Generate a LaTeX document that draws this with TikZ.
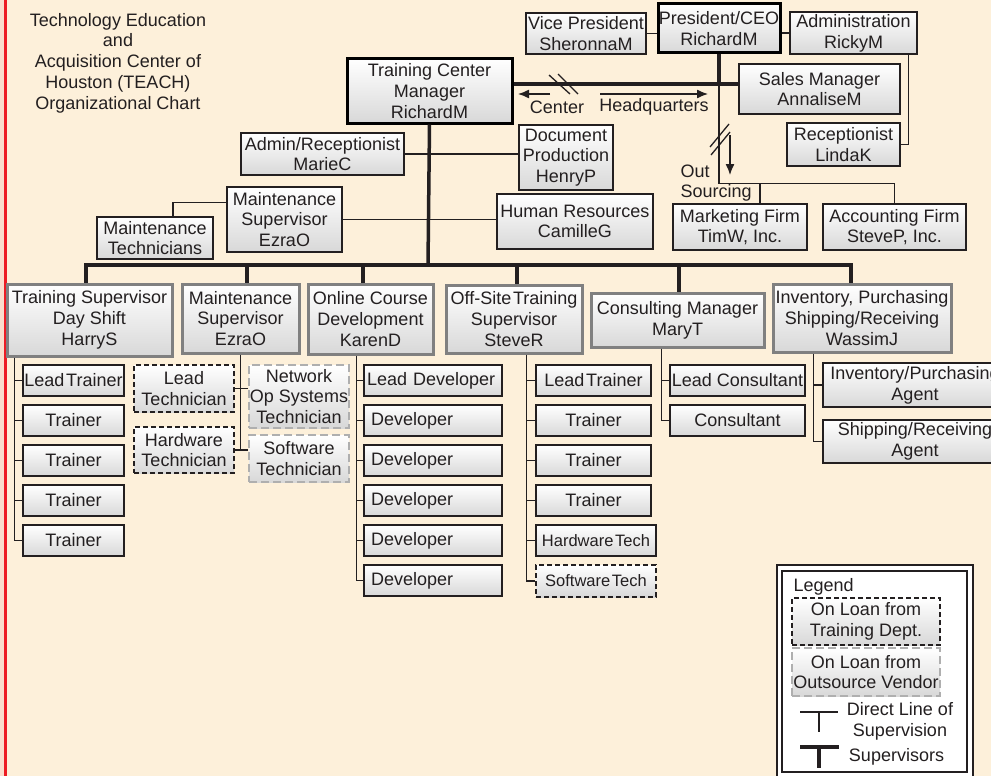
\documentclass[tikz,border=0pt]{standalone}
\usepackage{fontspec}
\setmainfont{Liberation Sans}
\usepackage{xcolor}
\usepackage{tikz}
\usetikzlibrary{positioning,arrows.meta}

\definecolor{cream}{RGB}{253,240,218}
\definecolor{edge}{RGB}{237,28,36}
\definecolor{blush}{RGB}{250,222,205}
\definecolor{ink}{RGB}{35,31,32}
\definecolor{rim}{RGB}{128,128,128}
\definecolor{shade}{RGB}{216,216,216}
\definecolor{vendor}{RGB}{175,175,175}

\newcommand{\tsp}{\hspace{0.1em}}

\begin{document}
\begin{tikzpicture}[
            x=1pt, y=-1pt,
            font=\fontsize{18}{20.7}\selectfont,
            text=ink,
            box/.style={draw=ink, line width=1.3pt, top color=white, bottom color=shade, inner sep=0pt, align=center},
            bossbox/.style={box, draw=black, line width=3pt},
            headbox/.style={box, draw=rim, line width=3pt},
            loanbox/.style={box, dash pattern=on 5pt off 3pt},
            vendbox/.style={box, draw=vendor, dash pattern=on 8pt off 4pt},
            trbox/.style={box, minimum width=101pt, minimum height=31pt},
            devbox/.style={box, text width=132pt, inner xsep=3pt, align=left, minimum height=31pt},
            offbox/.style={box, minimum width=115pt, minimum height=31pt},
            techbox/.style={minimum width=120pt, font=\fontsize{16.5}{19}\selectfont},
            conbox/.style={box, minimum width=135pt, minimum height=31pt},
            link/.style={draw=ink, line width=1.3pt},
            supline/.style={draw=ink, line width=3.5pt},
            arrow/.style={link, -{Latex[length=11pt,width=9pt]}},
            auto
        ]
            \useasboundingbox (0,0) rectangle (991,776);
            \clip (0,0) rectangle (991,776);
            \fill[cream] (0,0) rectangle (991,776);
            \fill[blush] (0,0) rectangle (4,776);
            \draw[edge, line width=3pt] (5.5,0) -- (5.5,776);

            % Title
            \node[align=center] (title) at (118,63) {Technology Education\\and\\Acquisition Center of\\Houston (TEACH)\\Organizational Chart};

            % Headquarters
            \node[bossbox, minimum width=122pt, minimum height=49pt] (ceo) at (719,28.5) {President/CEO\\RichardM};
            \node[box, minimum width=120pt, minimum height=41pt] (vp) at (586,33.5) {Vice President\\SheronnaM};
            \node[box, minimum width=127pt, minimum height=42pt] (adm) at (853.5,33) {Administration\\RickyM};
            \node[box, minimum width=161pt, minimum height=50pt] (sales) at (819.5,89) {Sales Manager\\AnnaliseM};
            \node[box, minimum width=113pt, minimum height=43pt] (recep) at (843.5,144.5) {Receptionist\\LindaK};
            \node[box, minimum width=134pt, minimum height=46pt] (mkt) at (740,227) {Marketing Firm\\TimW, Inc.};
            \node[box, minimum width=143pt, minimum height=46pt] (acct) at (894.5,227) {Accounting Firm\\SteveP, Inc.};
            \node[align=left, anchor=west] (outs) at (677,183) {Out\\Sourcing};

            % Center
            \node[bossbox, minimum width=165pt, minimum height=64pt] (tcm) at (429.5,91) {Training Center\\Manager\\RichardM};
            \node (ctr) at (557,107) {Center};
            \node (hqt) at (654,107) {Headquarters};
            \node[box, minimum width=163pt, minimum height=42pt] (admrec) at (322.5,154) {Admin/Receptionist\\MarieC};
            \node[box, minimum width=94pt, minimum height=65pt] (docprod) at (566,157.5) {Document\\Production\\HenryP};
            \node[box, minimum width=115pt, minimum height=65pt] (msup) at (284.5,219.5) {Maintenance\\Supervisor\\EzraO};
            \node[box, minimum width=156pt, minimum height=55pt] (hr) at (575,221.5) {Human Resources\\CamilleG};
            \node[box, minimum width=116pt, minimum height=42pt] (mtech) at (155,238) {Maintenance\\Technicians};

            % Supervisors
            \node[headbox, minimum width=165pt, minimum height=72pt] (tsup) at (89.5,320) {Training Supervisor\\Day Shift\\HarryS};
            \node[headbox, minimum width=117pt, minimum height=69pt] (msup2) at (240.5,318.5) {Maintenance\\Supervisor\\EzraO};
            \node[headbox, minimum width=125pt, minimum height=70pt] (ocd) at (370.5,319) {Online Course\\Development\\KarenD};
            \node[headbox, minimum width=136pt, minimum height=68pt] (offs) at (514,319) {Off-Site\tsp Training\\Supervisor\\SteveR};
            \node[headbox, minimum width=173pt, minimum height=54pt] (cons) at (677.5,320) {Consulting Manager\\MaryT};
            \node[headbox, minimum width=178pt, minimum height=68pt] (inv) at (862,318) {Inventory, Purchasing\\Shipping/Receiving\\WassimJ};

            % Staff
            \node[trbox] (tlead) at (73.5,380.5) {Lead\tsp Trainer};
            \node[trbox] (ttr1) at (73.5,420.5) {Trainer};
            \node[trbox] (ttr2) at (73.5,460.5) {Trainer};
            \node[trbox] (ttr3) at (73.5,500.5) {Trainer};
            \node[trbox] (ttr4) at (73.5,540.5) {Trainer};

            \node[loanbox, minimum width=100pt, minimum height=47pt] (mlead) at (184,388.5) {Lead\\Technician};
            \node[loanbox, minimum width=100pt, minimum height=46pt] (mhw) at (184,450) {Hardware\\Technician};
            \node[vendbox, minimum width=100pt, minimum height=63pt] (mnet) at (299,396.5) {Network\\Op Systems\\Technician};
            \node[vendbox, minimum width=100pt, minimum height=47pt] (msw) at (299,458.5) {Software\\Technician};

            \node[devbox] (dlead) at (433,380.5) {Lead Developer};
            \node[devbox] (dev1) at (433,420.5) {\hspace{4pt}Developer};
            \node[devbox] (dev2) at (433,460.5) {\hspace{4pt}Developer};
            \node[devbox] (dev3) at (433,500.5) {\hspace{4pt}Developer};
            \node[devbox] (dev4) at (433,540.5) {\hspace{4pt}Developer};
            \node[devbox] (dev5) at (433,580.5) {\hspace{4pt}Developer};

            \node[offbox] (olead) at (593.5,380.5) {Lead\tsp Trainer};
            \node[offbox] (otr1) at (593.5,420.5) {Trainer};
            \node[offbox] (otr2) at (593.5,460.5) {Trainer};
            \node[offbox] (otr3) at (593.5,500.5) {Trainer};
            \node[offbox, techbox] (ohw) at (596,540.5) {Hardware\tsp Tech};
            \node[loanbox, techbox, minimum height=32pt] (osw) at (596,581) {Software\tsp Tech};

            \node[conbox] (clead) at (737.5,380.5) {Lead Consultant};
            \node[conbox] (ccon) at (737.5,420.5) {Consultant};

            \node[box, minimum width=184pt, minimum height=44pt] (ipur) at (915,385) {Inventory/Purchasing\\Agent};
            \node[box, minimum width=184pt, minimum height=43pt] (iship) at (915,441.5) {Shipping/Receiving\\Agent};

            % Edges
            \coordinate (hq) at (719,84);
            \coordinate (bus) at (428,265);
            \draw[link] (vp.east) -- (vp.east -| ceo.west);
            \draw[link] (adm.west) -- (adm.west -| ceo.east);
            \draw[link] ([xshift=-9pt]adm.south east) |- (recep.east);
            \draw[supline] (ceo.south) -- (hq);
            \draw[supline] (tcm.east |- hq) -- (sales.west |- hq);
            \draw[link] (hq) |- ([yshift=20pt]acct.north) -- (acct.north);
            \draw[link] ([xshift=20pt]mkt.north) -- ([xshift=20pt,yshift=20pt]mkt.north);
            \draw[link] (710,147) -- (729,124) (711,155) -- (730,132);
            \draw[link] (549,75) -- (570,94) (558,74) -- (578,94);
            \coordinate (ca) at (550,94);
            \coordinate (cb) at (518,94);
            \coordinate (ha) at (600,94);
            \coordinate (hb) at (708,94);
            \coordinate (oa) at (730,135);
            \coordinate (ob) at (730,175);
            \draw[arrow] (ca) -- (cb);
            \draw[arrow] (ha) -- (hb);
            \draw[arrow] (oa) -- (ob);

            \draw[link] (admrec.east) -- (admrec.east -| docprod.west);
            \draw[link] (msup.east) -- (msup.east -| hr.west);
            \draw[link] ([yshift=17pt]msup.west) -| ([xshift=18pt]mtech.north);

            \draw[supline] (tcm.south) -- (bus);
            \draw[supline] ([xshift=-3.5pt]tsup.north) |- (bus) -| ([xshift=-11pt]inv.north);
            \draw[supline] ([xshift=6.5pt]msup2.north) -- ([xshift=6.5pt]msup2.north |- bus);
            \draw[supline] ([xshift=-7.5pt]ocd.north) -- ([xshift=-7.5pt]ocd.north |- bus);
            \draw[supline] ([xshift=3pt]offs.north) -- ([xshift=3pt]offs.north |- bus);
            \draw[supline] ([xshift=1.5pt]cons.north) -- ([xshift=1.5pt]cons.north |- bus);

            \draw[link] ([xshift=9pt]tsup.south west) |- (ttr4.west)
                (tlead.west) -- ++(-7,0) (ttr1.west) -- ++(-7,0) (ttr2.west) -- ++(-7,0) (ttr3.west) -- ++(-7,0);
            \draw[link] (msup2.south) -- (msup2.south |- mhw.east)
                (mlead.east) -- (mlead.east -| mnet.west) (mhw.east) -- (mhw.east -| msw.west);
            \draw[link] ([xshift=50pt]ocd.south west) |- (dev5.west)
                (dlead.west) -- ++(-6,0) (dev1.west) -- ++(-6,0) (dev2.west) -- ++(-6,0) (dev3.west) -- ++(-6,0) (dev4.west) -- ++(-6,0);
            \draw[link] ([xshift=82pt]offs.south west) |- (osw.west)
                (olead.west) -- ++(-8,0) (otr1.west) -- ++(-8,0) (otr2.west) -- ++(-8,0) (otr3.west) -- ++(-8,0) (ohw.west) -- ++(-8,0);
            \draw[link] ([xshift=72pt]cons.south west) |- (ccon.west)
                (clead.west) -- ++(-7,0);
            \draw[link] ([xshift=42pt]inv.south west) |- (iship.west)
                (ipur.west) -- ++(-8,0);

            % Legend
            \draw[link, fill=white] (777,565) rectangle (973,782);
            \draw[link, fill=white] (782,571) rectangle (967,772);
            \node[anchor=west] (lgd) at (790,587) {Legend};
            \node[loanbox, minimum width=148pt, minimum height=47pt] (lgtrain) at (866,621.5) {On Loan from\\Training Dept.};
            \node[vendbox, minimum width=148pt, minimum height=48pt] (lgvend) at (866,672) {On Loan from\\Outsource Vendor};
            \node[align=center] (lgdirect) at (900,721) {Direct Line of\\Supervision};
            \node (lgsup) at (896.5,757) {Supervisors};
            \draw[link] (800,712) -- (838,712) (819,712) -- (819,732);
            \draw[supline] (800,747) -- (839,747) (819,747) -- (819,768);
        \end{tikzpicture}
\end{document}
